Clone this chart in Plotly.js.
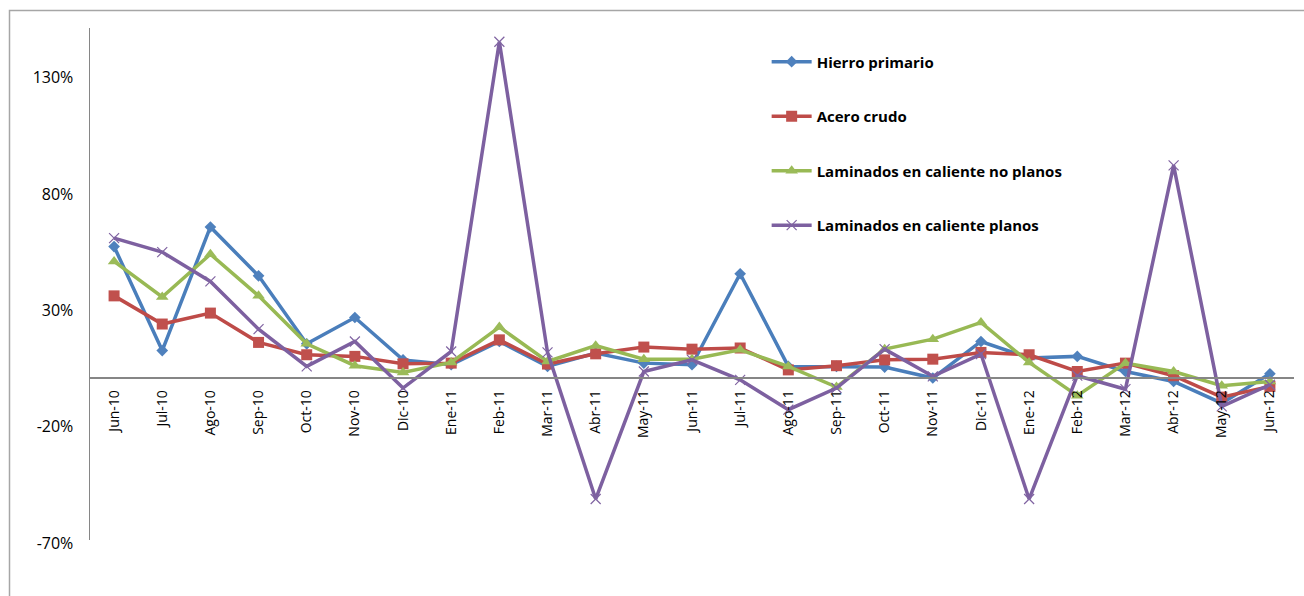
<!DOCTYPE html>
<html>
<head>
<meta charset="utf-8">
<script src="https://cdn.plot.ly/plotly-3.0.1.min.js"></script>
<style>
  html, body { margin: 0; padding: 0; background: #ffffff; }
  #chart { width: 1304px; height: 596px; }
</style>
</head>
<body>
<div id="chart"></div>
<script>
// Monthly categories, June 2010 to June 2012
const months = [
  "Jun-10", "Jul-10", "Ago-10", "Sep-10", "Oct-10", "Nov-10", "Dic-10",
  "Ene-11", "Feb-11", "Mar-11", "Abr-11", "May-11", "Jun-11", "Jul-11",
  "Ago-11", "Sep-11", "Oct-11", "Nov-11", "Dic-11",
  "Ene-12", "Feb-12", "Mar-12", "Abr-12", "May-12", "Jun-12"
];

// Year-on-year variation, in percent
const hierroPrimario = [
  56.1, 11.4, 64.5, 43.5, 14.3, 25.6, 7.4,
  5.3, 15.3, 4.6, 10.3, 6.0, 5.3, 44.4,
  4.6, 4.6, 4.3, -0.4, 15.3,
  8.2, 8.9, 2.4, -1.9, -11.2, 1.4
];
const aceroCrudo = [
  34.9, 22.8, 27.5, 14.9, 9.6, 8.9, 5.7,
  6.0, 16.0, 5.6, 10.0, 12.9, 12.0, 12.5,
  3.1, 4.9, 7.4, 7.7, 10.6,
  9.6, 2.4, 6.0, 0.6, -8.6, -4.0
];
const laminadosNoPlanos = [
  49.7, 34.4, 52.8, 34.9, 14.3, 4.9, 2.0,
  6.3, 21.5, 6.7, 13.5, 7.7, 7.7, 11.7,
  4.6, -4.3, 12.0, 16.3, 23.5,
  6.3, -8.0, 6.0, 2.4, -3.7, -1.9
];
const laminadosPlanos = [
  59.7, 53.7, 41.1, 20.6, 4.6, 15.3, -4.7,
  11.0, 144.1, 10.6, -52.4, 2.4, 7.4, -1.2,
  -14.0, -4.7, 12.0, 0.3, 9.9,
  -52.4, 0.6, -5.2, 91.0, -12.6, -3.3
];

const yTicks = [-70, -20, 30, 80, 130];
const yTickText = yTicks.map(v => v + "%");

const toFraction = arr => arr.map(v => v / 100);

function series(name, values, lineColor, markerColor, symbol, size, group) {
  const isX = symbol === "x-thin";
  return {
    type: "scatter",
    mode: "lines+markers",
    name: name,
    legendgroup: group,
    x: months,
    y: toFraction(values),
    line: { color: lineColor, width: 3.5 },
    marker: {
      symbol: symbol,
      size: size,
      color: markerColor,
      line: isX ? { color: markerColor, width: 1.2 } : { width: 0 }
    },
    cliponaxis: false,
    hoverinfo: "skip"
  };
}

const traces = [
  series("Hierro primario", hierroPrimario, "#4A7EBB", "#4F81BD", "diamond", 9, "g1"),
  series("Acero crudo", aceroCrudo, "#BE4B48", "#C0504D", "square", 11, "g2"),
  series("Laminados en caliente no planos", laminadosNoPlanos, "#98B954", "#9BBB59", "triangle-up", 11, "g3"),
  series("Laminados en caliente planos", laminadosPlanos, "#7D60A0", "#8064A2", "x-thin", 10, "g4")
];

const yMin = -0.70, yMax = 1.50;
const zeroPos = (0 - yMin) / (yMax - yMin);
const textFont = "'Open Sans', Lato, sans-serif";

const layout = {
  width: 1304,
  height: 596,
  margin: { l: 90, r: 10, t: 28, b: 56, pad: 0 },
  paper_bgcolor: "#ffffff",
  plot_bgcolor: "#ffffff",
  font: { family: textFont, size: 14, color: "#000000" },
  showlegend: true,
  legend: {
    x: 0.562,
    xanchor: "left",
    y: 0.966,
    yanchor: "top",
    traceorder: "grouped",
    tracegroupgap: 32,
    itemwidth: 40,
    bgcolor: "rgba(0,0,0,0)",
    font: { family: textFont, size: 15, color: "#000000", weight: "bold" }
  },
  xaxis: {
    type: "category",
    range: [-0.5, 24.5],
    anchor: "free",
    position: zeroPos,
    showline: true,
    linecolor: "#868686",
    linewidth: 1.5,
    showgrid: false,
    zeroline: false,
    ticks: "",
    tickangle: -90,
    ticklabelstandoff: 6,
    tickfont: { family: textFont, size: 14, color: "#000000" },
    fixedrange: true
  },
  yaxis: {
    range: [yMin, yMax],
    tickmode: "array",
    tickvals: yTicks.map(v => v / 100),
    ticktext: yTickText,
    showline: true,
    linecolor: "#868686",
    linewidth: 1.5,
    showgrid: false,
    zeroline: false,
    ticks: "",
    ticklabelstandoff: 12,
    ticklabelshift: 3,
    tickfont: { family: textFont, size: 16, color: "#000000" },
    fixedrange: true
  },
  shapes: [
    {
      // outer chart frame (runs off the right and bottom edges)
      type: "rect",
      xref: "paper", yref: "paper",
      x0: (9.5 - 90) / 1204, x1: 1.2,
      y0: -0.3, y1: 1 + (28 - 10.5) / 512,
      line: { color: "#A6A6A6", width: 1.5 },
      fillcolor: "rgba(0,0,0,0)",
      layer: "below"
    }
  ]
};

Plotly.newPlot("chart", traces, layout, { displayModeBar: false, staticPlot: true });
</script>
</body>
</html>
